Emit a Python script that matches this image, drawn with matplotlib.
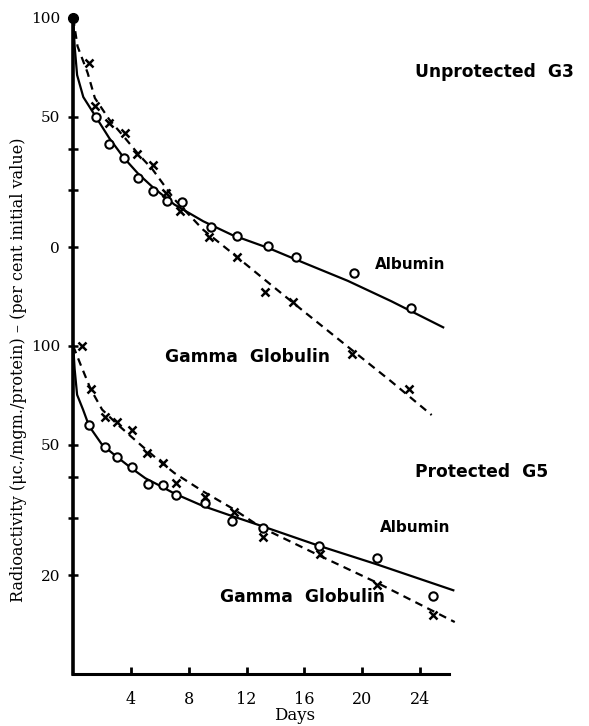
import matplotlib.pyplot as plt
from matplotlib.ticker import FixedLocator, FixedFormatter, NullLocator

# Unprotected G3 (upper panel)
g3_alb_days = [1.6, 2.5, 3.5, 4.5, 5.5, 6.5, 7.5, 9.5, 11.3, 13.5, 15.4, 19.4, 23.4]
g3_alb_vals = [49.9, 41.3, 37.4, 32.5, 29.7, 27.7, 27.5, 23.1, 21.6, 20.2, 18.7, 16.7, 13.1]
g3_glob_days = [1.1, 1.5, 2.5, 3.6, 4.4, 5.5, 6.4, 7.4, 9.4, 11.3, 13.3, 15.2, 19.3, 23.2]
g3_glob_vals = [72.9, 53.9, 47.9, 44.6, 38.5, 35.6, 29.3, 25.8, 21.5, 18.7, 14.6, 13.6, 9.45, 7.4]
g3_alb_fit_days = [0, 0.1, 0.27, 0.7, 1.5, 2.5, 3.5, 4.5, 5.5, 7, 9, 11, 13.5, 16, 19, 22, 25.6]
g3_alb_fit_vals = [100, 82, 67, 57.4, 50.5, 43, 37.5, 33.5, 30.5, 27, 24, 21.8, 19.9, 17.9, 15.8, 13.7, 11.4]
g3_glob_fit_days = [0, 0.3, 1.0, 1.5, 2.5, 3.5, 4.5, 5.5, 7, 9, 11, 13.5, 16, 19, 22, 24.8]
g3_glob_fit_vals = [100, 82, 68, 57, 49, 43.5, 38.5, 34.5, 28, 22.6, 19.2, 15.6, 12.7, 9.95, 7.8, 6.16]

# Protected G5 (lower panel)
g5_alb_days = [1.1, 2.2, 3.0, 4.1, 5.2, 6.2, 7.1, 9.1, 11.0, 13.1, 17.0, 21.0, 24.9]
g5_alb_vals = [57.4, 49.2, 45.9, 42.8, 37.9, 37.7, 35.1, 33.2, 29.3, 27.9, 24.5, 22.6, 17.3]
g5_glob_days = [0.6, 1.2, 2.2, 3.0, 4.1, 5.1, 6.2, 7.1, 9.1, 11.1, 13.1, 17.1, 21.0, 24.9]
g5_glob_vals = [100, 74.0, 60.8, 58.6, 55.5, 47.2, 44.0, 38.2, 34.7, 31.2, 26.2, 23.2, 18.7, 15.1]
g5_alb_fit_days = [0, 0.1, 0.27, 0.68, 1.1, 2, 3, 4, 5, 6, 7, 9, 11, 13, 17, 21, 26.3]
g5_alb_fit_vals = [100, 85, 71, 64, 57, 50, 46, 42.5, 39.5, 37.5, 35.5, 32.5, 30.3, 28.3, 24.6, 21.6, 18.0]
g5_glob_fit_days = [0, 0.5, 1.2, 2, 3, 4, 5, 6, 7, 9, 11, 13, 17, 21, 26.4]
g5_glob_fit_vals = [100, 88, 74, 64, 58, 53, 48.5, 44.5, 41, 36, 32, 28, 23, 19, 14.4]

x_ticks = [4, 8, 12, 16, 20, 24]
y_ticks = [100, 50, 40, 30, 20]
g3_tick_labels = ['100', '50', '', '', '0']
g5_tick_labels = ['100', '50', '', '', '20']

plt.rcParams['font.family'] = 'DejaVu Serif'

fig = plt.figure(figsize=(5.89, 7.26), dpi=100)
pos = [73.2 / 589, 52 / 726, 383 / 589, 656 / 726]

# lower panel carries the drawn axes
ax2 = fig.add_axes(pos)
ax1 = fig.add_axes(pos, facecolor='none')

for ax in (ax1, ax2):
    ax.set_yscale('log')
    ax.set_xlim(0, 26.5)
    for s in ['top', 'right']:
        ax.spines[s].set_visible(False)
    ax.yaxis.set_minor_locator(NullLocator())

ax1.set_ylim(1, 100)
ax2.set_ylim(10, 1000)

ax1.yaxis.set_major_locator(FixedLocator(y_ticks))
ax1.yaxis.set_major_formatter(FixedFormatter(g3_tick_labels))
ax2.yaxis.set_major_locator(FixedLocator(y_ticks))
ax2.yaxis.set_major_formatter(FixedFormatter(g5_tick_labels))

ax1.spines['bottom'].set_visible(False)
ax1.spines['left'].set_visible(False)
ax1.set_xticks([])
ax2.spines['left'].set_linewidth(2.6)
ax2.spines['bottom'].set_linewidth(2.2)
ax2.spines['bottom'].set_bounds(0, 26)
ax2.set_xticks(x_ticks)
ax2.tick_params(axis='x', direction='in', length=5, width=2, labelsize=11.5, pad=12)
for ax in (ax1, ax2):
    ax.tick_params(axis='y', direction='inout', length=7, width=1.8, labelsize=11, pad=6)

# upper panel
ax1.plot(g3_alb_fit_days, g3_alb_fit_vals, color='black', lw=1.6, clip_on=False)
ax1.plot(g3_glob_fit_days, g3_glob_fit_vals, color='black', lw=1.6, ls=(0, (3.5, 2.5)), clip_on=False)
ax1.plot(g3_alb_days, g3_alb_vals, 'o', mfc='white', mec='black', ms=6, mew=1.5, clip_on=False)
ax1.plot(g3_glob_days, g3_glob_vals, 'x', color='black', ms=6, mew=1.8, clip_on=False)
ax1.plot([0], [100], 'o', color='black', ms=7, clip_on=False)

# lower panel
ax2.plot(g5_alb_fit_days, g5_alb_fit_vals, color='black', lw=1.6, clip_on=False)
ax2.plot(g5_glob_fit_days, g5_glob_fit_vals, color='black', lw=1.6, ls=(0, (3.5, 2.5)), clip_on=False)
ax2.plot(g5_alb_days, g5_alb_vals, 'o', mfc='white', mec='black', ms=6, mew=1.5, clip_on=False)
ax2.plot(g5_glob_days, g5_glob_vals, 'x', color='black', ms=6, mew=1.8, clip_on=False)

lab = dict(fontsize=12.3, fontweight='bold', family='DejaVu Sans', va='center', ha='left')
ax1.text(23.65, 68.4, 'Unprotected  G3', **lab)
ax1.text(20.9, 17.7, 'Albumin', **dict(lab, fontsize=11))
ax1.text(6.35, 9.27, 'Gamma  Globulin', **lab)
ax2.text(23.65, 41.2, 'Protected  G5', **lab)
ax2.text(21.2, 27.9, 'Albumin', **dict(lab, fontsize=11))
ax2.text(10.16, 17.2, 'Gamma  Globulin', **lab)

fig.text(295 / 589, 1 - 716 / 726, 'Days', ha='center', va='center', fontsize=12)
fig.text(19 / 589, 1 - 370 / 726,
         'Radioactivity (\u03bcc./mgm./protein) \u2013 (per cent initial value)',
         rotation=90, ha='center', va='center', fontsize=11.5)

fig.savefig('out.png', dpi=100)
